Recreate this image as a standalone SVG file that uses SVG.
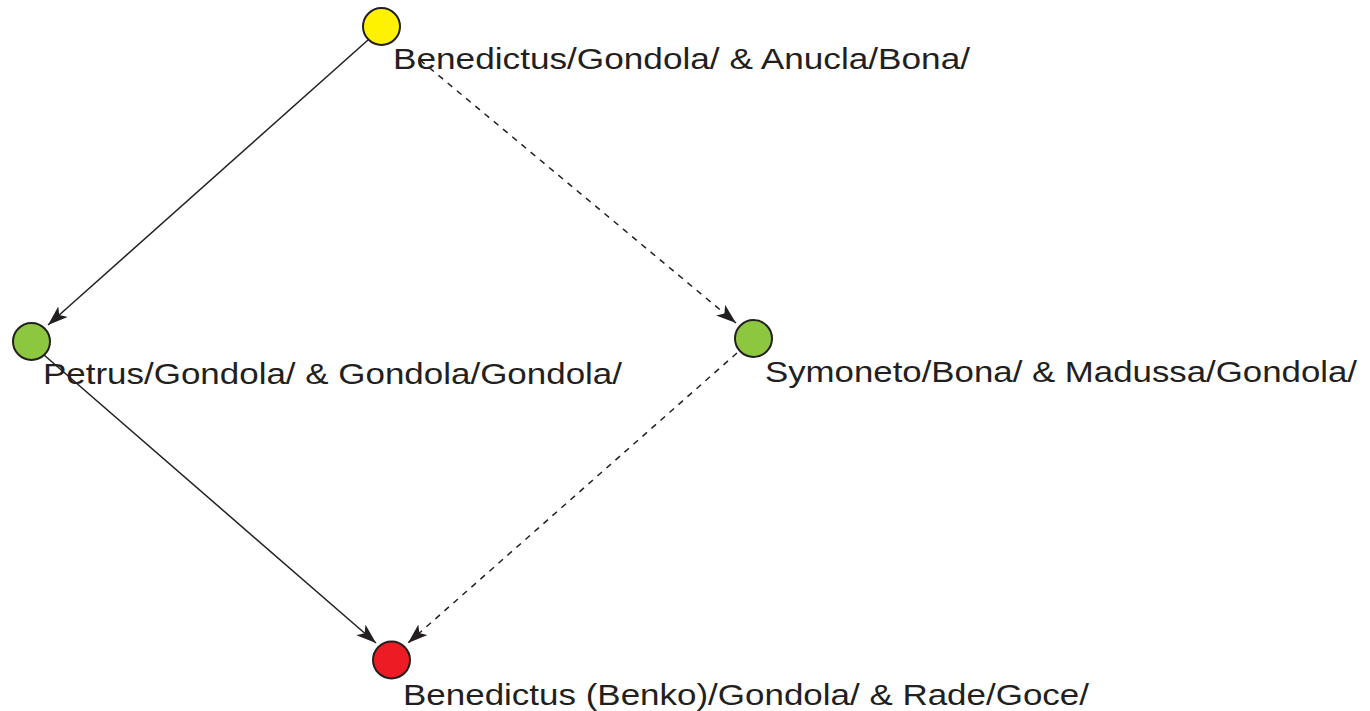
<svg xmlns="http://www.w3.org/2000/svg" width="1370" height="711" viewBox="0 0 1370 711">
<style>
.lbl{font-family:"Liberation Sans",Arial,sans-serif;font-size:30px;fill:#231f20}
.node{stroke:#231f20;stroke-width:2}
.edge{stroke:#231f20;stroke-width:1.5;fill:none}
.dash{stroke-dasharray:6 6}
</style>
<defs>
<marker id="arr" viewBox="0 0 20 14" refX="20" refY="7" markerWidth="20" markerHeight="14" markerUnits="userSpaceOnUse" orient="auto">
<path d="M0,0 L20,7 L0,14 L5,7 Z" fill="#231f20"/>
</marker>
</defs>
<rect width="1370" height="711" fill="#fff"/>
<g id="connectors">
<line class="edge" x1="368" y1="40" x2="48" y2="325" marker-end="url(#arr)"/>
<line class="edge" x1="44" y1="355" x2="376" y2="643" marker-end="url(#arr)"/>
<line class="edge dash" x1="420" y1="60" x2="736" y2="323" marker-end="url(#arr)"/>
<line class="edge dash" x1="737" y1="353" x2="408" y2="643" marker-end="url(#arr)"/>
</g>
<g id="n1"><circle class="node" cx="381.5" cy="26.5" r="18.5" fill="#fff200"/><text class="lbl" x="393" y="68.5" textLength="577" lengthAdjust="spacingAndGlyphs">Benedictus/Gondola/ &amp; Anucla/Bona/</text></g>
<g id="n2"><circle class="node" cx="31.5" cy="341.5" r="18.5" fill="#8dc63f"/><text class="lbl" x="43" y="383.5" textLength="579" lengthAdjust="spacingAndGlyphs">Petrus/Gondola/ &amp; Gondola/Gondola/</text></g>
<g id="n3"><circle class="node" cx="753.5" cy="338.5" r="18.5" fill="#8dc63f"/><text class="lbl" x="765" y="381.5" textLength="592" lengthAdjust="spacingAndGlyphs">Symoneto/Bona/ &amp; Madussa/Gondola/</text></g>
<g id="n4"><circle class="node" cx="391.5" cy="660" r="18.5" fill="#ed1c24"/><text class="lbl" x="403" y="704.5" textLength="686" lengthAdjust="spacingAndGlyphs">Benedictus (Benko)/Gondola/ &amp; Rade/Goce/</text></g>
</svg>
